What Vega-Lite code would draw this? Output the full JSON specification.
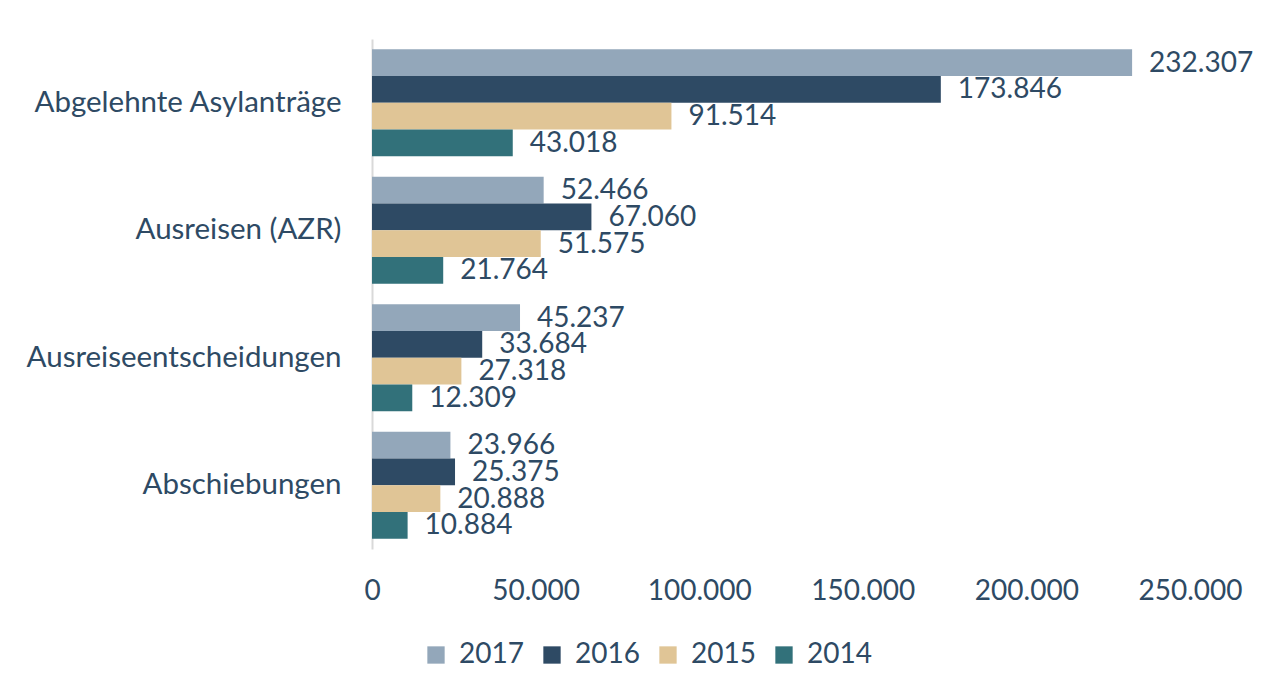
{
  "$schema": "https://vega.github.io/schema/vega-lite/v6.json",
  "autosize": "none",
  "width": 818,
  "height": 510,
  "padding": {"left": 372, "top": 39, "right": 80, "bottom": 139},
  "background": "white",
  "data": {
    "values": [
      {"cat": "Abgelehnte Asylanträge", "year": "2017", "value": 232307},
      {"cat": "Abgelehnte Asylanträge", "year": "2016", "value": 173846},
      {"cat": "Abgelehnte Asylanträge", "year": "2015", "value": 91514},
      {"cat": "Abgelehnte Asylanträge", "year": "2014", "value": 43018},
      {"cat": "Ausreisen (AZR)", "year": "2017", "value": 52466},
      {"cat": "Ausreisen (AZR)", "year": "2016", "value": 67060},
      {"cat": "Ausreisen (AZR)", "year": "2015", "value": 51575},
      {"cat": "Ausreisen (AZR)", "year": "2014", "value": 21764},
      {"cat": "Ausreiseentscheidungen", "year": "2017", "value": 45237},
      {"cat": "Ausreiseentscheidungen", "year": "2016", "value": 33684},
      {"cat": "Ausreiseentscheidungen", "year": "2015", "value": 27318},
      {"cat": "Ausreiseentscheidungen", "year": "2014", "value": 12309},
      {"cat": "Abschiebungen", "year": "2017", "value": 23966},
      {"cat": "Abschiebungen", "year": "2016", "value": 25375},
      {"cat": "Abschiebungen", "year": "2015", "value": 20888},
      {"cat": "Abschiebungen", "year": "2014", "value": 10884}
    ]
  },
  "encoding": {
    "y": {
      "field": "cat", "type": "nominal", "sort": null, "title": null,
      "scale": {"paddingInner": 0.16, "paddingOuter": 0.08},
      "axis": {"domain": true, "domainColor": "#d9d9d9", "domainWidth": 2, "ticks": false, "labelPadding": 31, "labelFontSize": 29.5, "labelLimit": 400}
    },
    "yOffset": {
      "field": "year", "type": "nominal", "sort": ["2017", "2016", "2015", "2014"],
      "scale": {"paddingInner": 0, "paddingOuter": 0}
    },
    "x": {
      "field": "value", "type": "quantitative", "title": null,
      "scale": {"domain": [0, 250000], "nice": false},
      "axis": {"domain": false, "ticks": false, "grid": false, "values": [0, 50000, 100000, 150000, 200000, 250000], "format": ",d", "labelPadding": 28, "labelFontSize": 28, "labelFlush": false}
    }
  },
  "layer": [
    {
      "mark": {"type": "bar"},
      "encoding": {
        "color": {
          "field": "year", "type": "nominal", "title": null,
          "sort": ["2017", "2016", "2015", "2014"],
          "scale": {"domain": ["2017", "2016", "2015", "2014"], "range": ["#93a7ba", "#2e4a64", "#e0c596", "#32717a"]},
          "legend": {
            "orient": "none", "legendX": 50, "legendY": 602, "direction": "horizontal", "columns": 4,
            "symbolType": "square", "symbolSize": 300, "symbolStrokeWidth": 0,
            "labelFontSize": 28, "labelOffset": 9, "columnPadding": 14
          }
        }
      }
    },
    {
      "mark": {"type": "text", "align": "left", "baseline": "middle", "dx": 17, "dy": 1, "fontSize": 28, "color": "#2e4a64"},
      "encoding": {
        "text": {"field": "value", "type": "quantitative", "format": ",d"}
      }
    }
  ],
  "config": {
    "locale": {"number": {"decimal": ",", "thousands": ".", "grouping": [3], "currency": ["", " €"]}},
    "font": "Lato",
    "view": {"stroke": null},
    "axis": {"labelColor": "#2e4a64", "labelFont": "Lato"},
    "legend": {"labelColor": "#2e4a64", "labelFont": "Lato"},
    "text": {"font": "Lato"}
  }
}
